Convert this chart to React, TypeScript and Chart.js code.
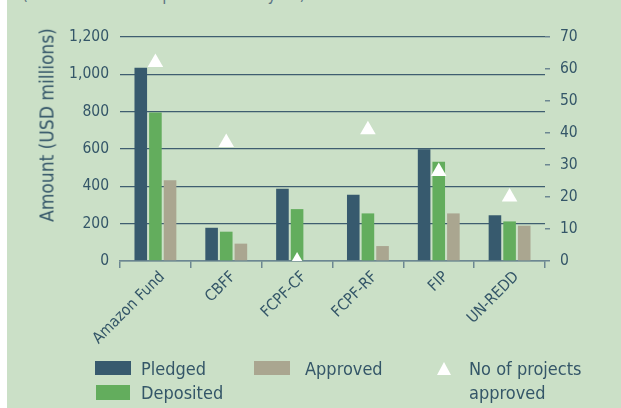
import React, { useEffect, useRef } from "react";
import { Chart, registerables } from "chart.js";

Chart.register(...registerables);

const categories = ["Amazon Fund", "CBFF", "FCPF-CF", "FCPF-RF", "FIP", "UN-REDD"];
const pledged = [1035, 178, 387, 355, 598, 245];
const deposited = [796, 157, 278, 255, 532, 212];
const approved = [432, 93, 0, 80, 255, 189];
const projectsApproved = [62, 37, 0, 41, 28, 20];
const leftTicks = [0, 200, 400, 600, 800, 1000, 1200];
const rightTicks = [0, 10, 20, 30, 40, 50, 60, 70];

const FONT = "'DejaVu Sans Condensed', 'DejaVu Sans', sans-serif";
const TEXT = "#345668";
const SLATE = "#3f5e70";
const AXIS = "#6c8792";
const C_PLEDGED = "#375a6e";
const C_DEPOSITED = "#63ad5d";
const C_APPROVED = "#aaa690";
const BG = "#cbe0c7";

export default function App() {
  const ref = useRef<HTMLCanvasElement | null>(null);

  useEffect(() => {
    document.body.style.margin = "0";
    const ctx = ref.current!.getContext("2d")!;
    const chart = new Chart(ctx, {
      type: "bar",
      data: {
        labels: categories,
        datasets: [
          {
            type: "line",
            label: "No of projects approved",
            data: projectsApproved,
            yAxisID: "y1",
            showLine: false,
            pointStyle: "triangle",
            pointRadius: 9,
            pointBackgroundColor: "#ffffff",
            pointBorderWidth: 0,
            borderWidth: 0,
            order: 0,
          } as any,
          { label: "Pledged", data: pledged, backgroundColor: C_PLEDGED, yAxisID: "y", order: 1 },
          { label: "Deposited", data: deposited, backgroundColor: C_DEPOSITED, yAxisID: "y", order: 1 },
          { label: "Approved", data: approved, backgroundColor: C_APPROVED, yAxisID: "y", order: 1 },
        ],
      },
      options: {
        responsive: false,
        animation: false,
        events: [],
        layout: { padding: { top: 37, left: 0, right: 0, bottom: 0 } },
        datasets: {
          bar: { categoryPercentage: 0.62, barPercentage: 0.86 },
        } as any,
        plugins: {
          legend: { display: false },
          tooltip: { enabled: false },
        },
        scales: {
          x: {
            offset: true,
            afterFit: (s: any) => {
              s.height = 147;
            },
            grid: {
              display: true,
              drawOnChartArea: false,
              drawTicks: true,
              tickLength: 7,
              color: AXIS,
              lineWidth: 1.5,
              offset: true,
            },
            border: { display: true, color: AXIS, width: 1.5 },
            ticks: {
              color: TEXT,
              font: { family: FONT, size: 15.5 },
              minRotation: 45,
              maxRotation: 45,
              autoSkip: false,
              padding: 0,
              labelOffset: 7,
            },
          },
          y: {
            position: "left",
            min: 0,
            max: 1200,
            afterFit: (s: any) => {
              s.width = 120;
            },
            afterBuildTicks: (s: any) => {
              s.ticks = leftTicks.map((v) => ({ value: v }));
            },
            grid: { color: SLATE, lineWidth: 1.3, drawTicks: false },
            border: { display: false },
            ticks: {
              color: TEXT,
              font: { family: FONT, size: 15.5 },
              padding: 11,
              callback: (v: any) => Number(v).toLocaleString("en-US"),
            },
          },
          y1: {
            position: "right",
            min: 0,
            max: 70,
            afterFit: (s: any) => {
              s.width = 76;
            },
            afterBuildTicks: (s: any) => {
              s.ticks = rightTicks.map((v) => ({ value: v }));
            },
            grid: {
              drawOnChartArea: false,
              drawTicks: true,
              tickLength: 5,
              color: AXIS,
              lineWidth: 1.5,
            },
            border: { display: false },
            ticks: {
              color: TEXT,
              font: { family: FONT, size: 15.5 },
              padding: 10,
            },
          },
        },
      },
    });
    return () => chart.destroy();
  }, []);

  const abs = (o: React.CSSProperties): React.CSSProperties => ({ position: "absolute", ...o });
  const txt: React.CSSProperties = {
    position: "absolute",
    fontFamily: FONT,
    fontSize: 18,
    lineHeight: "18px",
    color: TEXT,
    whiteSpace: "nowrap",
  };

  return (
    <div style={{ position: "fixed", left: 0, top: 0, width: 621, height: 408, overflow: "hidden", background: "#ffffff" }}>
      <div style={abs({ left: 7, top: 0, width: 614, height: 408, background: BG })} />
      <div style={{ ...txt, left: 22, top: -15, color: "#5f7685", fontSize: 17 }}>
        (see Table 2 for expanded acronyms)
      </div>
      <canvas ref={ref} width={621} height={408} style={abs({ left: 0, top: 0, width: 621, height: 408 })} />
      <div
        style={{
          ...txt,
          left: 47,
          top: 125,
          fontSize: 19,
          lineHeight: "19px",
          transform: "translate(-50%, -50%) rotate(-90deg)",
        }}
      >
        Amount (USD millions)
      </div>
      <div style={abs({ left: 95, top: 361, width: 36, height: 14, background: C_PLEDGED })} />
      <div style={{ ...txt, left: 141, top: 360 }}>Pledged</div>
      <div style={abs({ left: 96, top: 385, width: 34, height: 15, background: C_DEPOSITED })} />
      <div style={{ ...txt, left: 141, top: 384 }}>Deposited</div>
      <div style={abs({ left: 254, top: 361, width: 36, height: 14, background: C_APPROVED })} />
      <div style={{ ...txt, left: 305, top: 360 }}>Approved</div>
      <div
        style={abs({
          left: 437,
          top: 362,
          width: 0,
          height: 0,
          borderLeft: "7.5px solid transparent",
          borderRight: "7.5px solid transparent",
          borderBottom: "13px solid #ffffff",
        })}
      />
      <div style={{ ...txt, left: 469, top: 360 }}>No of projects</div>
      <div style={{ ...txt, left: 469, top: 384 }}>approved</div>
    </div>
  );
}
